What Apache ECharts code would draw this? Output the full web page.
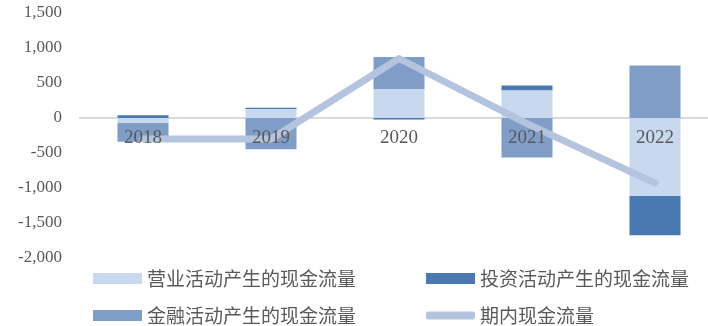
<!DOCTYPE html>
<html>
<head>
<meta charset="utf-8">
<script src="https://cdn.jsdelivr.net/npm/echarts@6/dist/echarts.min.js"></script>
<style>html,body{margin:0;padding:0;background:#fff;}#c{width:708px;height:326px;}</style>
</head>
<body>
<div id="c"></div>
<script>
var categories = ['2018', '2019', '2020', '2021', '2022'];
var operating = [-70, 130, 415, 395, -1115];
var investing = [40, 15, -20, 70, -560];
var financing = [-270, -445, 455, -565, 750];
var netFlow = [-300, -300, 850, -80, -930];
var seriesNames = ['营业活动产生的现金流量', '投资活动产生的现金流量', '金融活动产生的现金流量', '期内现金流量'];
var yMin = -2000, yMax = 1500, yStep = 500;

function fmt(v) {
  var s = String(Math.abs(v)).replace(/\B(?=(\d{3})+(?!\d))/g, ',');
  return (v < 0 ? '-' : '') + s;
}

var chart = echarts.init(document.getElementById('c'));
var txt = '#595959';
var serif = "'Liberation Serif', 'Times New Roman', serif";
var legendText = { color: txt, fontSize: 19, fontFamily: "'Noto Sans CJK SC'" };
function mkLegend(name, left, top, isLine) {
  return {
    data: [name], left: left, top: top, itemWidth: 49, itemHeight: isLine ? 8 : 11, itemGap: 5,
    textStyle: legendText, selectedMode: false, padding: 0,
    icon: isLine ? 'roundRect' : 'rect'
  };
}
// only the zero split line is visible
var splitColors = [];
for (var v = yMin; v <= yMax; v += yStep) splitColors.push(v === 0 ? '#d9d9d9' : 'rgba(0,0,0,0)');

var gridTop = 13, gridBottom = 68, H = 326;
var plotH = H - gridTop - gridBottom;
// move the category axis up to the zero level
var zeroOffset = -((0 - yMin) / (yMax - yMin)) * plotH;

chart.setOption({
  animation: false,
  grid: { left: 79, right: -11, top: gridTop, bottom: gridBottom, outerBoundsMode: 'none', containLabel: false },
  legend: [
    mkLegend(seriesNames[0], 93, 269, false),
    mkLegend(seriesNames[1], 426, 269, false),
    mkLegend(seriesNames[2], 93, 306, false),
    mkLegend(seriesNames[3], 426, 306, true)
  ],
  xAxis: {
    type: 'category', data: categories, position: 'bottom', offset: zeroOffset,
    axisLine: { show: false, onZero: false }, axisTick: { show: false },
    axisLabel: { color: txt, fontSize: 19, fontFamily: serif, margin: 11 }, z: 10
  },
  yAxis: {
    type: 'value', min: yMin, max: yMax, interval: yStep,
    axisLine: { show: false }, axisTick: { show: false },
    splitLine: { show: true, lineStyle: { color: splitColors, width: 2 } },
    axisLabel: { color: txt, fontSize: 17, fontFamily: serif, margin: 17, formatter: fmt }
  },
  series: [
    { name: seriesNames[0], type: 'bar', stack: 'cf', data: operating, barWidth: 51, itemStyle: { color: '#C7D8EF' } },
    { name: seriesNames[1], type: 'bar', stack: 'cf', data: investing, barWidth: 51, itemStyle: { color: '#4A78B0' } },
    { name: seriesNames[2], type: 'bar', stack: 'cf', data: financing, barWidth: 51, itemStyle: { color: '#7F9DC7' } },
    { name: seriesNames[3], type: 'line', data: netFlow, symbol: 'none', z: 5,
      lineStyle: { color: '#B4C3DE', width: 7, cap: 'round', join: 'round' }, itemStyle: { color: '#B4C3DE' } }
  ]
});
</script>
</body>
</html>
